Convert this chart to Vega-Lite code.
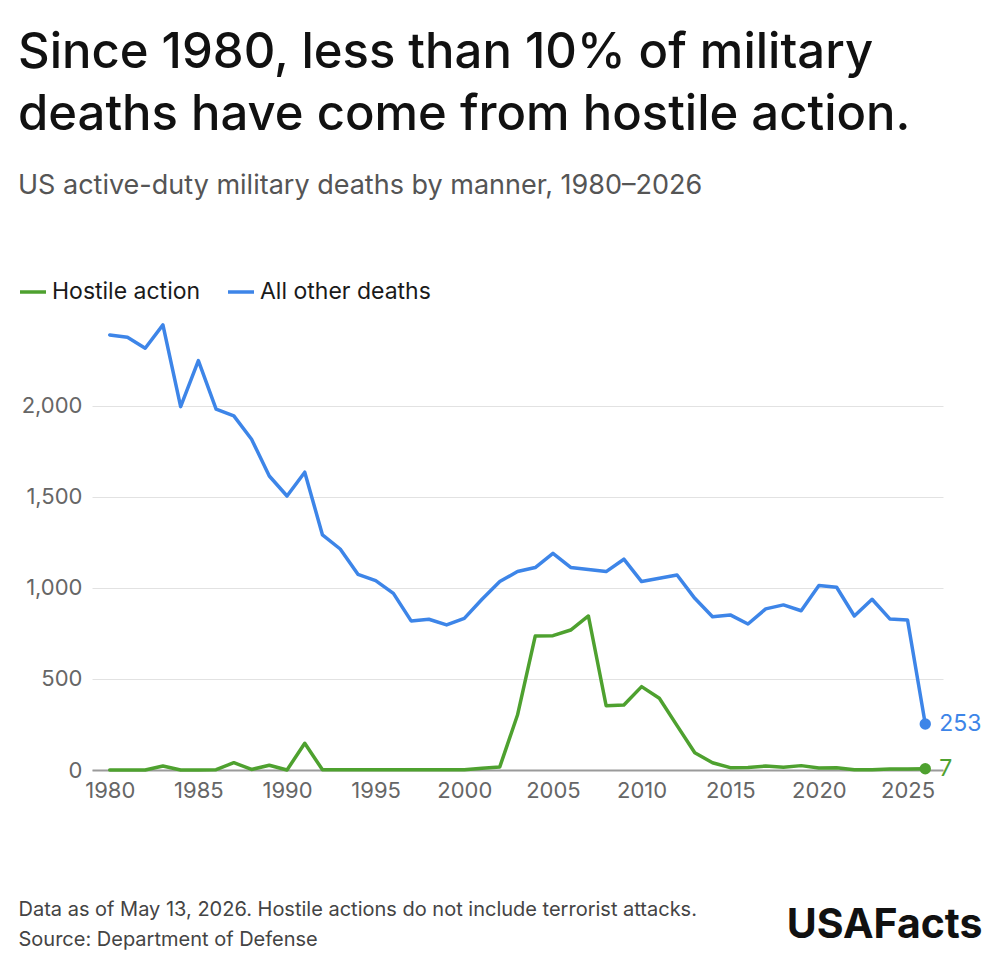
{
  "$schema": "https://vega.github.io/schema/vega-lite/v6.json",
  "width": 851,
  "height": 446,
  "autosize": "none",
  "padding": {"left": 92, "top": 324, "right": 57, "bottom": 205},
  "background": "white",
  "config": {
    "font": "Inter",
    "view": {"stroke": null},
    "axis": {"labelFont": "Inter", "titleFont": "Inter"}
  },
  "title": {
    "text": ["Since 1980, less than 10% of military", "deaths have come from hostile action."],
    "subtitle": "US active-duty military deaths by manner, 1980–2026",
    "anchor": "start",
    "frame": "group",
    "dx": -74,
    "font": "Inter",
    "fontSize": 49,
    "fontWeight": 500,
    "color": "#111111",
    "lineHeight": 62,
    "subtitleFont": "Inter",
    "subtitleFontSize": 27,
    "subtitleColor": "#555555",
    "subtitlePadding": 33,
    "offset": 78
  },
  "datasets": {
    "deaths": [
      {"year": 1980, "Hostile action": 0, "All other deaths": 2390},
      {"year": 1981, "Hostile action": 0, "All other deaths": 2377},
      {"year": 1982, "Hostile action": 0, "All other deaths": 2317},
      {"year": 1983, "Hostile action": 22, "All other deaths": 2445},
      {"year": 1984, "Hostile action": 0, "All other deaths": 1996},
      {"year": 1985, "Hostile action": 0, "All other deaths": 2249},
      {"year": 1986, "Hostile action": 2, "All other deaths": 1982},
      {"year": 1987, "Hostile action": 40, "All other deaths": 1945},
      {"year": 1988, "Hostile action": 3, "All other deaths": 1817},
      {"year": 1989, "Hostile action": 26, "All other deaths": 1615},
      {"year": 1990, "Hostile action": 0, "All other deaths": 1505},
      {"year": 1991, "Hostile action": 147, "All other deaths": 1636},
      {"year": 1992, "Hostile action": 1, "All other deaths": 1291},
      {"year": 1993, "Hostile action": 1, "All other deaths": 1214},
      {"year": 1994, "Hostile action": 1, "All other deaths": 1075},
      {"year": 1995, "Hostile action": 1, "All other deaths": 1040},
      {"year": 1996, "Hostile action": 2, "All other deaths": 970},
      {"year": 1997, "Hostile action": 1, "All other deaths": 819},
      {"year": 1998, "Hostile action": 1, "All other deaths": 828},
      {"year": 1999, "Hostile action": 1, "All other deaths": 797},
      {"year": 2000, "Hostile action": 1, "All other deaths": 833},
      {"year": 2001, "Hostile action": 10, "All other deaths": 938},
      {"year": 2002, "Hostile action": 17, "All other deaths": 1035},
      {"year": 2003, "Hostile action": 302, "All other deaths": 1090},
      {"year": 2004, "Hostile action": 736, "All other deaths": 1112},
      {"year": 2005, "Hostile action": 738, "All other deaths": 1190},
      {"year": 2006, "Hostile action": 769, "All other deaths": 1113},
      {"year": 2007, "Hostile action": 846, "All other deaths": 1102},
      {"year": 2008, "Hostile action": 353, "All other deaths": 1090},
      {"year": 2009, "Hostile action": 357, "All other deaths": 1158},
      {"year": 2010, "Hostile action": 458, "All other deaths": 1035},
      {"year": 2011, "Hostile action": 394, "All other deaths": 1053},
      {"year": 2012, "Hostile action": 244, "All other deaths": 1071},
      {"year": 2013, "Hostile action": 95, "All other deaths": 943},
      {"year": 2014, "Hostile action": 40, "All other deaths": 842},
      {"year": 2015, "Hostile action": 13, "All other deaths": 852},
      {"year": 2016, "Hostile action": 14, "All other deaths": 802},
      {"year": 2017, "Hostile action": 22, "All other deaths": 885},
      {"year": 2018, "Hostile action": 15, "All other deaths": 907},
      {"year": 2019, "Hostile action": 24, "All other deaths": 875},
      {"year": 2020, "Hostile action": 11, "All other deaths": 1013},
      {"year": 2021, "Hostile action": 12, "All other deaths": 1004},
      {"year": 2022, "Hostile action": 2, "All other deaths": 846},
      {"year": 2023, "Hostile action": 2, "All other deaths": 938},
      {"year": 2024, "Hostile action": 5, "All other deaths": 830},
      {"year": 2025, "Hostile action": 5, "All other deaths": 824},
      {"year": 2026, "Hostile action": 7, "All other deaths": 253}
    ]
  },
  "data": {"name": "deaths"},
  "transform": [
    {"fold": ["Hostile action", "All other deaths"], "as": ["series", "value"]}
  ],
  "resolve": {"axis": {"x": "independent"}},
  "layer": [
    {
      "mark": {"type": "line", "strokeWidth": 3.5, "strokeJoin": "round", "strokeCap": "round"},
      "encoding": {
        "x": {
          "field": "year", "type": "quantitative",
          "scale": {"domain": [1979, 2027], "nice": false, "zero": false},
          "axis": {
            "values": [1980, 1985, 1990, 1995, 2000, 2005, 2010, 2015, 2020, 2025],
            "format": "d",
            "grid": false,
            "ticks": false,
            "domain": true,
            "domainColor": "#9a9a9a",
            "domainWidth": 2,
            "labelFontSize": 22,
            "labelColor": "#666666",
            "labelPadding": 10,
            "title": ["Data as of May 13, 2026. Hostile actions do not include terrorist attacks.", "Source: Department of Defense"],
            "titleAnchor": "start",
            "titleAlign": "left",
            "titleBaseline": "top",
            "titleX": -74,
            "titleY": 129,
            "titleFontSize": 20,
            "titleFontWeight": "normal",
            "titleColor": "#444444",
            "titleLineHeight": 30
          }
        },
        "y": {
          "field": "value", "type": "quantitative",
          "scale": {"domain": [0, 2450], "nice": false},
          "axis": {
            "values": [0, 500, 1000, 1500, 2000],
            "format": ",d",
            "grid": true,
            "gridColor": "#e2e2e2",
            "gridWidth": 1,
            "ticks": false,
            "domain": false,
            "labelFontSize": 22,
            "labelColor": "#666666",
            "labelPadding": 10,
            "title": null
          }
        },
        "color": {
          "field": "series", "type": "nominal",
          "scale": {"domain": ["Hostile action", "All other deaths"], "range": ["#4ea12f", "#3d85e8"]},
          "legend": {
            "title": null,
            "orient": "none",
            "legendX": -74,
            "legendY": -47,
            "direction": "horizontal",
            "symbolType": "stroke",
            "symbolStrokeWidth": 3.5,
            "symbolSize": 676,
            "labelFontSize": 23,
            "labelColor": "#1a1a1a",
            "labelFont": "Inter",
            "labelOffset": 4,
            "labelLimit": 400,
            "columnPadding": 20
          }
        }
      }
    },
    {
      "transform": [{"filter": "datum.year == 2026"}],
      "mark": {"type": "point", "filled": true, "size": 130, "opacity": 1},
      "encoding": {
        "x": {
          "field": "year", "type": "quantitative",
          "axis": {
            "orient": "top",
            "labels": false,
            "ticks": false,
            "domain": false,
            "grid": false,
            "title": "USAFacts",
            "titleAnchor": "start",
            "titleAlign": "right",
            "titleBaseline": "middle",
            "titleX": 890,
            "titleY": 601,
            "titleFontSize": 41,
            "titleFontWeight": 700,
            "titleColor": "#111111"
          }
        },
        "y": {"field": "value", "type": "quantitative"},
        "color": {"field": "series", "type": "nominal", "legend": null}
      }
    },
    {
      "transform": [{"filter": "datum.year == 2026"}],
      "mark": {"type": "text", "align": "left", "baseline": "middle", "dx": 14, "fontSize": 23},
      "encoding": {
        "x": {"field": "year", "type": "quantitative", "axis": null},
        "y": {"field": "value", "type": "quantitative"},
        "text": {"field": "value", "type": "quantitative", "format": "d"},
        "color": {"field": "series", "type": "nominal", "legend": null}
      }
    }
  ]
}
